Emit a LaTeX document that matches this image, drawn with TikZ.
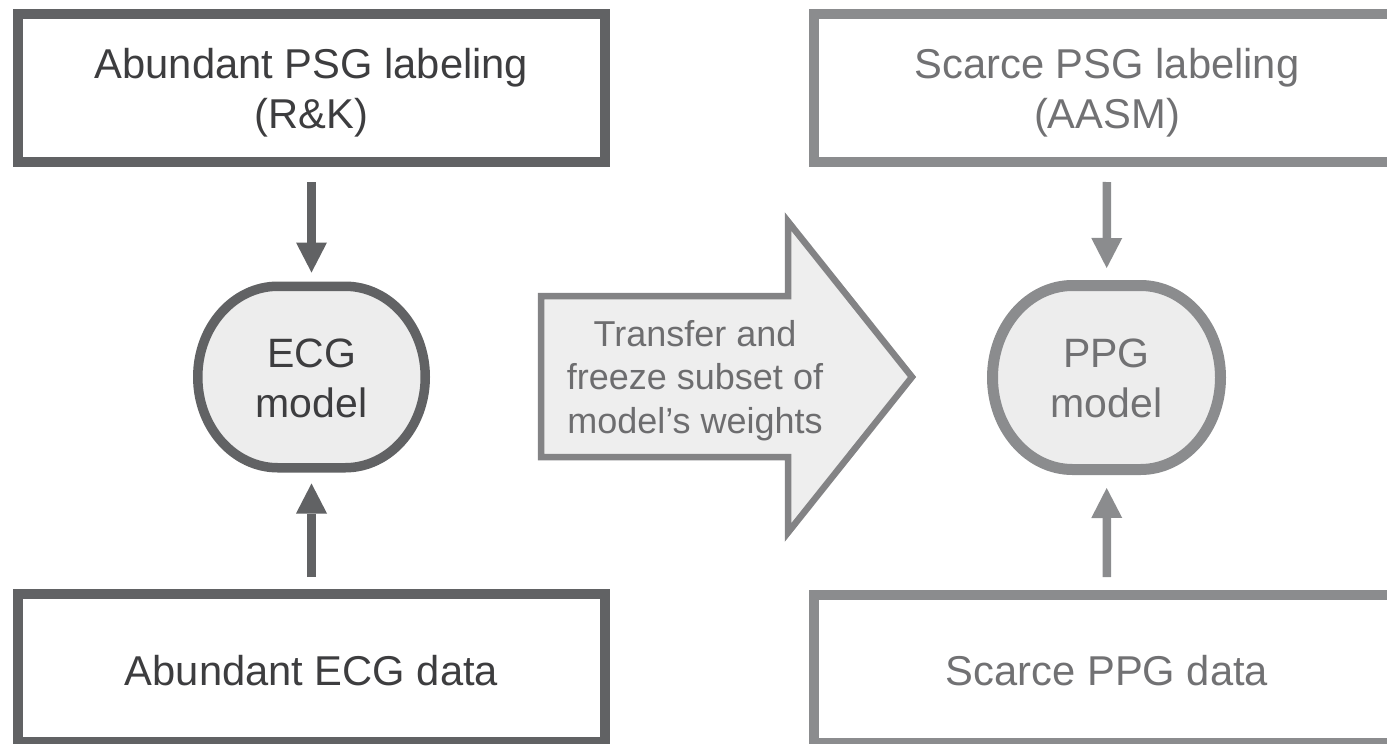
\documentclass[tikz,border=0pt]{standalone}
\usepackage{fontspec}
\setmainfont{Liberation Sans}
\usetikzlibrary{arrows.meta}
\definecolor{dk}{HTML}{616264}
\definecolor{dktext}{HTML}{3D3D3F}
\definecolor{lt}{HTML}{8B8C8E}
\definecolor{lttext}{HTML}{717173}
\definecolor{bigstroke}{HTML}{838385}
\definecolor{bigfill}{HTML}{EEEEEE}
\definecolor{bigtext}{HTML}{6D6D6F}
\definecolor{modfill}{HTML}{EDEDED}
\begin{document}
\begin{tikzpicture}[x=1pt,y=-1pt,
  boxL/.style={draw=dk, line width=10pt, minimum width=587pt, minimum height=148pt, inner sep=0pt},
  boxR/.style={draw=lt, line width=10pt, minimum width=587pt, minimum height=148pt, inner sep=0pt},
  modnode/.style={minimum width=237pt, minimum height=191pt, inner sep=0pt, outer sep=0pt},
  modL/.style={draw=dk, fill=modfill, line width=9.5pt},
  modR/.style={draw=lt, fill=modfill, line width=11pt},
  bigtxt/.style={font=\fontsize{41.7}{50}\selectfont, anchor=base, inner sep=0pt},
  modtxt/.style={font=\fontsize{41}{50}\selectfont, anchor=base, inner sep=0pt},
  arrL/.style={draw=dk, line width=8.5pt, -{Triangle[width=31pt,length=30pt,line width=0pt]}},
  arrR/.style={draw=lt, line width=8.5pt, -{Triangle[width=31pt,length=30pt,line width=0pt]}},
  bigarrow/.style={draw=bigstroke, fill=bigfill, line width=6.5pt, line join=miter}
]
\path[use as bounding box] (0,0) rectangle (1387,744);
\clip (0,0) rectangle (1387,744);

% left column
\node[boxL] (psgL) at (311.5,88) {};
\node[bigtxt, text=dktext] (psgLt) at (311.5,78)
  {\begin{tabular}[t]{@{}c@{}}Abundant PSG labeling\\(R\&K)\end{tabular}};
\node[modnode] (ecg) at (311.5,377) {};
\draw[modL] (277.75,286.25) -- (345.25,286.25)
  arc[start angle=90, end angle=-90, x radius=80pt, y radius=90.75pt]
  -- (277.75,467.75)
  arc[start angle=270, end angle=90, x radius=80pt, y radius=90.75pt] -- cycle;
\node[modtxt, text=dktext] (ecgt) at (311.5,367)
  {\begin{tabular}[t]{@{}c@{}}ECG\\model\end{tabular}};
\node[boxL] (ecgdata) at (311.5,668) {};
\node[bigtxt, text=dktext] (ecgdatat) at (311.5,685) {Abundant ECG data};

\draw[arrL, shorten <=15pt, shorten >=9pt] (psgL) -- (ecg);
\draw[arrL, shorten <=12pt, shorten >=11pt] (ecgdata) -- (ecg);

% transfer arrow
\draw[bigarrow] (541,296) -- (788,296) -- (788,221.5) -- (912,377) -- (788,532.5) -- (788,457) -- (541,457) -- cycle;
\node[font=\fontsize{36}{43.5}\selectfont, anchor=base, inner sep=0pt, text=bigtext] (transfer) at (695,346)
  {\begin{tabular}[t]{@{}c@{}}Transfer and\\freeze subset of\\model’s weights\end{tabular}};

% right column
\node[boxR] (psgR) at (1107,88) {};
\node[bigtxt, text=lttext] (psgRt) at (1107,78)
  {\begin{tabular}[t]{@{}c@{}}Scarce PSG labeling\\(AASM)\end{tabular}};
\node[modnode, minimum width=239pt, minimum height=195pt] (ppg) at (1106.5,377.5) {};
\draw[modR] (1072.5,285.5) -- (1140.5,285.5)
  arc[start angle=90, end angle=-90, x radius=80pt, y radius=92pt]
  -- (1072.5,469.5)
  arc[start angle=270, end angle=90, x radius=80pt, y radius=92pt] -- cycle;
\node[modtxt, text=lttext] (ppgt) at (1106.5,367)
  {\begin{tabular}[t]{@{}c@{}}PPG\\model\end{tabular}};
\node[boxR] (ppgdata) at (1107,669) {};
\node[bigtxt, text=lttext] (ppgdatat) at (1107,685) {Scarce PPG data};

\draw[arrR, shorten <=15pt, shorten >=12pt] (psgR) -- (ppg);
\draw[arrR, shorten <=13pt, shorten >=13pt] (ppgdata) -- (ppg);
\end{tikzpicture}
\end{document}
